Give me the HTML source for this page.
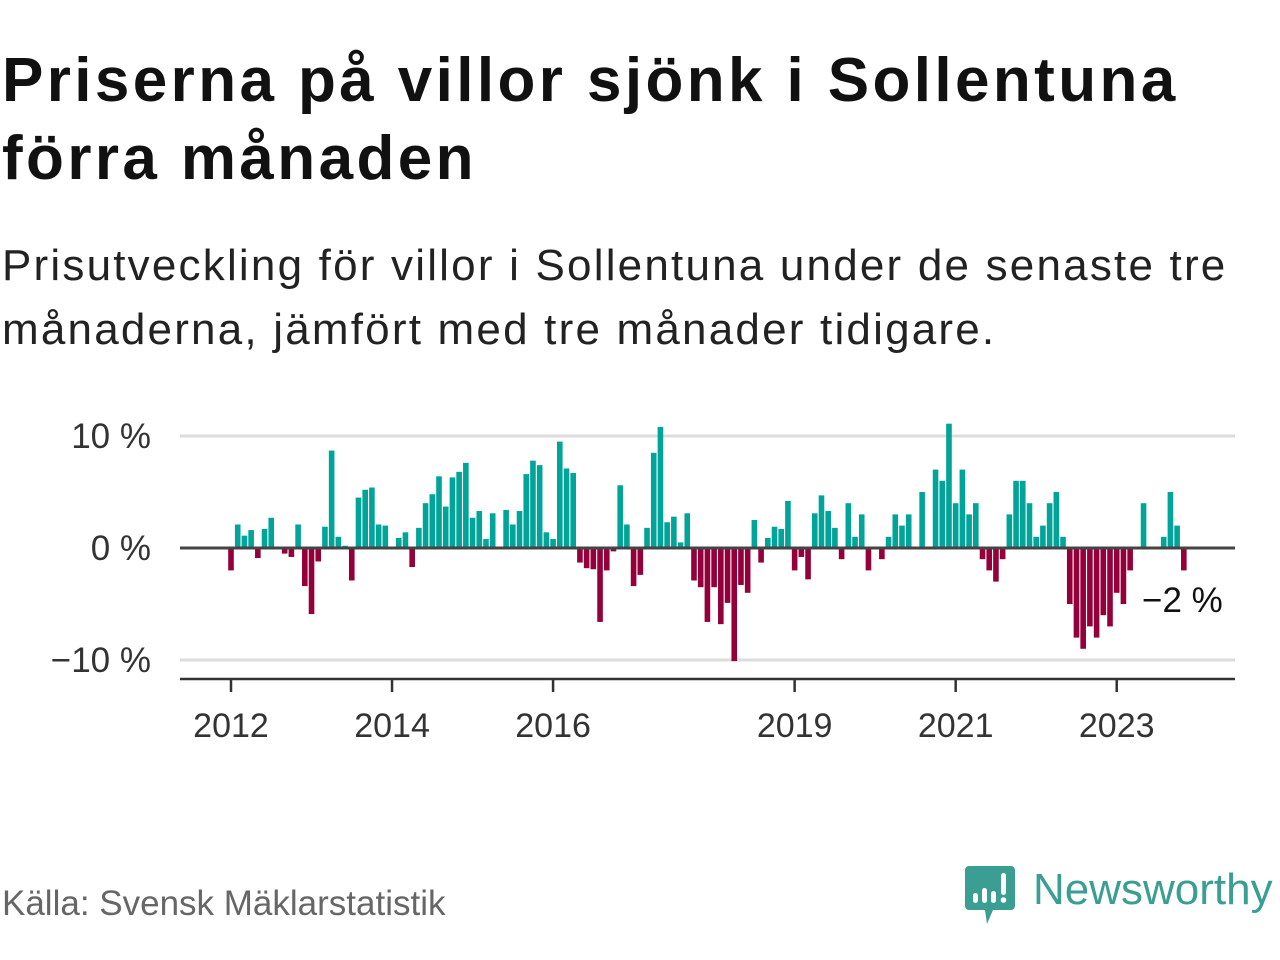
<!DOCTYPE html>
<html><head><meta charset="utf-8">
<style>
body{margin:0;width:1280px;height:960px;background:#fff;font-family:"Liberation Sans","DejaVu Sans",sans-serif;overflow:hidden;position:relative}
.t{position:absolute;left:2px;top:42px;font-size:62px;font-weight:bold;line-height:78px;color:#111;margin:0;letter-spacing:3.4px}
.s{position:absolute;left:2px;top:234px;font-size:44px;line-height:64px;color:#222;margin:0;letter-spacing:2.2px}
.src{position:absolute;left:2px;top:884px;font-size:35px;color:#666}
</style></head><body>
<h1 class="t">Priserna på villor sjönk i Sollentuna<br>förra månaden</h1>
<p class="s">Prisutveckling för villor i Sollentuna under de senaste tre<br>månaderna, jämfört med tre månader tidigare.</p>
<svg id="chart" width="1280" height="960" style="position:absolute;left:0;top:0" xmlns="http://www.w3.org/2000/svg"></svg>
<div class="src">Källa: Svensk Mäklarstatistik</div>
<div style="position:absolute;top:866px;left:965px">
<svg width="315" height="62" xmlns="http://www.w3.org/2000/svg">
<path d="M4,0 H46 a4,4 0 0 1 4,4 V40 a4,4 0 0 1 -4,4 H28 L22,58 L20,44 H4 a4,4 0 0 1 -4,-4 V4 a4,4 0 0 1 4,-4Z" fill="#3a9e92"/>
<rect x="8" y="27" width="5" height="10" rx="2.5" fill="#fff"/><rect x="17" y="22" width="5" height="15" rx="2.5" fill="#fff"/><rect x="26" y="25" width="5" height="12" rx="2.5" fill="#fff"/><rect x="36" y="7" width="5" height="22" rx="2.5" fill="#fff"/><circle cx="38.5" cy="34" r="2.8" fill="#fff"/>
<text x="68" y="38" font-family="Liberation Sans, sans-serif" font-size="44" fill="#3a9e92">Newsworthy</text>
</svg></div>
<script>
const years=[2012,2014,2016,2019,2021,2023];
const yTicks=[10,0,-10];
const yTickLabels=["10 %","0 %","−10 %"];
const values=[-2.0,2.1,1.1,1.6,-0.9,1.7,2.7,null,-0.5,-0.8,2.1,-3.4,-5.9,-1.2,1.9,8.7,1.0,0.2,-2.9,4.5,5.2,5.4,2.1,2.0,
null,0.9,1.4,-1.7,1.8,4.0,4.8,6.4,3.7,6.3,6.8,7.6,2.7,3.3,0.8,3.1,null,3.4,2.1,3.3,6.6,7.8,7.4,1.4,
0.8,9.5,7.1,6.7,-1.3,-1.8,-1.9,-6.6,-2.0,-0.3,5.6,2.1,-3.4,-2.4,1.8,8.5,10.8,2.3,2.8,0.5,3.1,-2.9,-3.5,-6.6,
-3.5,-6.8,-4.9,-10.1,-3.3,-4.0,2.5,-1.3,0.9,1.9,1.7,4.2,-2.0,-0.8,-2.8,3.1,4.7,3.3,1.8,-1.0,4.0,1.0,3.0,-2.0,
null,-1.0,1.0,3.0,2.0,3.0,null,5.0,null,7.0,6.0,11.1,4.0,7.0,3.0,4.0,-1,-2,-3,-1,3,6,6,4,
1,2,4,5,1,-5,-8,-9,-7,-8,-6,-7,-4,-5,-2,null,4,null,null,1,5,2,-2];
const lastLabel="−2 %";
const NS="http://www.w3.org/2000/svg";
const svg=document.getElementById('chart');
const x0=180,x1=1235;
function xm(i){return 231+i*6.71;}
function xy(yr){return 231+(yr-2012)*12*6.71;}
function y(v){return 548-v*11.2;}
function mk(tag,at){const e=document.createElementNS(NS,tag);for(const k in at)e.setAttribute(k,at[k]);svg.appendChild(e);return e;}
yTicks.forEach((t,i)=>{
  if(t!==0){const g=mk('line',{x1:x0,x2:x1,y1:y(t),y2:y(t),stroke:'#dcdcdc','stroke-width':3});
  
  }
  const l=mk('text',{x:151,y:y(t)+12,'text-anchor':'end','font-size':35,fill:'#333'});
  l.textContent=yTickLabels[i];
  
  
});
values.forEach((v,i)=>{
  if(v===null)return;
  const top=v>=0?y(v):y(0), h=Math.abs(y(v)-y(0));
  const r=mk('rect',{x:xm(i)-2.8,y:top,width:5.6,height:h,fill:v>=0?'#00a499':'#93003a'});
  
  
});
const base=mk('line',{x1:x0,x2:x1,y1:y(0),y2:y(0),stroke:'#444','stroke-width':3});


const ax=mk('line',{x1:x0,x2:x1,y1:679,y2:679,stroke:'#333','stroke-width':2.5});


years.forEach(yr=>{
  const tk=mk('line',{x1:xy(yr),x2:xy(yr),y1:679,y2:692,stroke:'#333','stroke-width':2.5});
  
  
  const l=mk('text',{x:xy(yr),y:737,'text-anchor':'middle','font-size':34,fill:'#333'});
  l.textContent=yr;
  
  
});
const ll=mk('text',{x:1142,y:612,'font-size':35,fill:'#111'});
ll.textContent=lastLabel;


</script>
</body></html>
